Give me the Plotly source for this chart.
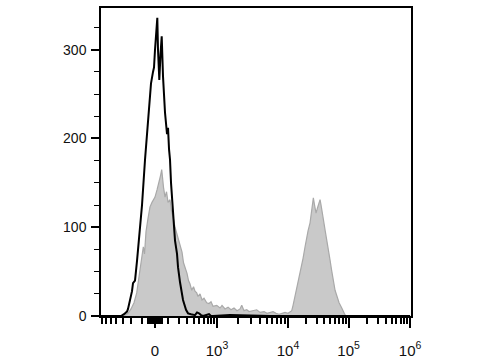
import numpy as np
import plotly.graph_objects as go

# ---------------- data (x in display channel 0..1000, y = cell count) ----------------
# black (unstained / control) histogram: positions read in plot-pixels, converted to channel
black_px = [101, 121, 124, 127, 128, 130, 132, 133, 135, 137, 140, 142, 145, 147, 149, 150, 151,
            153, 154, 155, 156, 157.3, 158, 159.3, 160.5, 161.7, 163, 164, 165, 167, 168, 169,
            170, 171, 173, 175, 177, 178, 180, 182, 183, 186, 188, 191, 195, 197, 199, 201,
            203, 209, 211, 213, 230, 270, 410]
black_cnt = [0, 0, 2, 5, 8, 18, 28, 37, 40, 62, 97, 125, 176, 205, 240, 258, 262,
             275, 280, 300, 320, 336, 300, 266, 295, 315, 270, 250, 229, 205, 212, 188,
             176, 150, 116, 85, 70, 55, 38, 25, 18, 7, 3, 2, 1, 4, 3, 1,
             0, 2, 0, 0, 1, 0, 0]

gray_px = [101, 123, 125, 128, 131, 134, 136.7, 139, 141, 143.3, 144.5, 146, 148, 150, 152,
           154, 155, 157, 159, 160.5, 161.7, 162.5, 163.5, 165, 166.5, 168, 170, 171.5, 173,
           175, 177, 178.5, 180, 182, 183.5, 185, 187, 188.5, 190, 191.7, 193.5, 195, 196.7,
           198, 200, 202, 204, 206.7, 209, 211, 213, 216.7, 220, 222, 225, 228, 231, 234, 237,
           240, 241.7, 244, 246.7, 249, 252, 256.7, 260, 264, 267, 270, 273, 276, 279, 282,
           285, 288, 290, 291.7, 293, 294.5, 296.7, 298, 300, 301.7, 303, 305, 306.7, 308,
           310, 311.5, 312.5, 313.3, 314.5, 316, 317.5, 319, 320, 321, 322.5, 324, 325,
           326.5, 328, 330, 331.5, 333, 335, 337, 339, 341.7, 343.5, 345, 347, 410]
gray_cnt = [0, 0, 1, 3, 8, 15, 26, 45, 62, 78, 70, 95, 110, 123, 128,
            132, 134, 142, 150, 158, 165, 155, 145, 134, 140, 128, 131, 118, 112,
            100, 92, 85, 78, 72, 60, 55, 48, 40, 36, 29, 33, 28, 26,
            22, 25, 18, 20, 15, 14, 16, 11, 12, 9, 12, 8, 10, 7, 9, 6,
            8, 12, 6, 7, 5, 6, 7, 4, 5, 3, 4, 5, 3, 2, 3,
            4, 3, 5, 6, 12, 20, 29, 38, 48, 55, 65, 78, 89, 96,
            105, 118, 128, 133, 125, 116, 122, 128, 131, 125, 112, 104, 97,
            88, 78, 63, 52, 40, 29, 22, 15, 9, 4, 1, 0, 0]

x_tick_values = [0, 1e3, 1e4, 1e5, 1e6]
x_tick_labels = ["0", "10<sup>3</sup>", "10<sup>4</sup>", "10<sup>5</sup>", "10<sup>6</sup>"]
y_tick_values = [0, 100, 200, 300]


# ---------------- biexponential-like display transform ----------------
def disp(v):
    """fluorescence value -> display channel (0..1000)"""
    if abs(v) <= 1e3:
        p = 155 + 62 * np.arcsinh(v / 200) / np.arcsinh(5)
    elif v <= 1e4:
        p = 217 + 71 * np.log10(v / 1e3)
    elif v <= 1e5:
        p = 288 + 60.5 * np.log10(v / 1e4)
    else:
        p = 348.5 + 61.5 * np.log10(v / 1e5)
    return (p - 101) * 1000 / 309


def px2ch(p):
    return (p - 101) * 1000 / 309


bx = [px2ch(p) for p in black_px]
gx = [px2ch(p) for p in gray_px]

minor_vals = []
for v in list(range(-700, 0, 100)) + [-50, -40, -30, -20, -10, 10, 20, 30, 40, 50] + list(range(100, 1000, 100)):
    minor_vals.append(disp(v))
for d in [1e3, 1e4, 1e5]:
    for k in range(2, 10):
        minor_vals.append(disp(k * d))
minor_vals = [m for m in minor_vals if 0 <= m <= 1000]

fig = go.Figure()
fig.add_trace(go.Scatter(x=gx, y=gray_cnt, mode="lines", fill="tozeroy",
                         fillcolor="#c9c9c9", line=dict(color="#a9a9a9", width=1.2),
                         hoverinfo="skip", showlegend=False))
fig.add_trace(go.Scatter(x=bx, y=black_cnt, mode="lines",
                         line=dict(color="#000000", width=2),
                         hoverinfo="skip", showlegend=False))

font = dict(family="Arial, Liberation Sans, sans-serif", size=14, color="#111111")

fig.update_layout(
    width=480, height=360,
    margin=dict(l=101, r=69, t=8, b=44),
    paper_bgcolor="white", plot_bgcolor="white",
    font=font,
    xaxis=dict(range=[0, 1003], tickmode="array", automargin=False,
               tickvals=[disp(v) for v in x_tick_values], ticktext=x_tick_labels,
               ticks="outside", ticklen=10, tickwidth=2, tickcolor="black",
               showline=True, linecolor="black", linewidth=1.5, mirror=True,
               showgrid=False, zeroline=False, ticklabelstandoff=10,
               tickfont=dict(size=15),
               minor=dict(tickmode="array", tickvals=minor_vals, ticks="outside",
                          ticklen=6, tickwidth=1.5, tickcolor="black", showgrid=False)),
    yaxis=dict(range=[0, 347], tickmode="array", tickvals=y_tick_values, automargin=False,
               ticks="outside", ticklen=8, tickwidth=1.5, tickcolor="black",
               showline=True, linecolor="black", linewidth=1.5, mirror=True,
               showgrid=False, zeroline=False, ticklabelstandoff=2,
               minor=dict(dtick=25, tick0=0, ticks="outside", ticklen=5,
                          tickwidth=1, tickcolor="black", showgrid=False)),
)

fig.write_html("out.html")
